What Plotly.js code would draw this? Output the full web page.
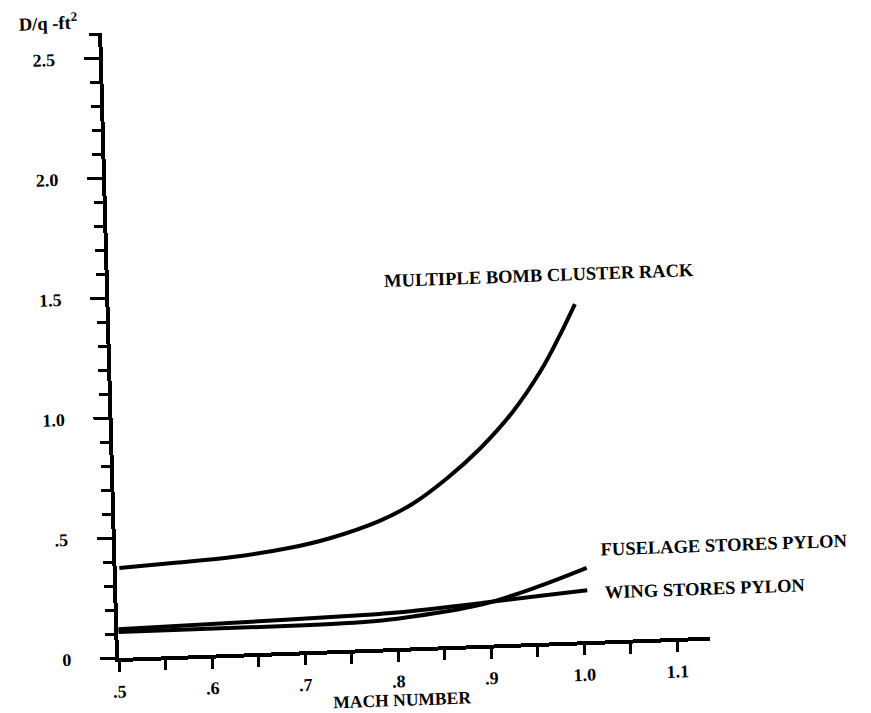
<!DOCTYPE html>
<html>
<head>
<meta charset="utf-8">
<script src="https://cdn.plot.ly/plotly-3.0.1.min.js"></script>
<style>
  html, body { margin: 0; padding: 0; background: #fff; overflow: hidden; width: 871px; height: 713px; }
  /* the scanned original is slightly skewed; reproduce that with a small affine transform */
  #chart { width: 871px; height: 740px; transform-origin: 119px 658px; transform: matrix(1, -0.036, 0.027, 1, 0, 0); }
</style>
</head>
<body>
<div id="chart"></div>
<script>
// ---- data ----
const seriesNames = ['MULTIPLE BOMB CLUSTER RACK', 'FUSELAGE STORES PYLON', 'WING STORES PYLON'];

const machBomb = [0.503, 0.563, 0.625, 0.687, 0.730, 0.784, 0.820, 0.858, 0.894, 0.930, 0.961, 0.983, 1.000];
const dqBomb   = [0.375, 0.388, 0.403, 0.433, 0.467, 0.532, 0.598, 0.700, 0.818, 0.965, 1.130, 1.278, 1.405];

const machFuselage = [0.500, 0.680, 0.760, 0.800, 0.893, 0.955, 1.005];
const dqFuselage   = [0.108, 0.108, 0.113, 0.122, 0.170, 0.238, 0.305];

const machWing = [0.500, 0.680, 0.760, 0.800, 0.893, 0.955, 1.005];
const dqWing   = [0.120, 0.134, 0.142, 0.148, 0.175, 0.196, 0.212];

const machTickVals = [0.5, 0.6, 0.7, 0.8, 0.9, 1.0, 1.1];
const machTickText = ['.5', '.6', '.7', '.8', '.9', '1.0', '1.1'];
const dqTickVals = [0, 0.5, 1.0, 1.5, 2.0, 2.5];
const dqTickText = ['0', '.5', '1.0', '1.5', '2.0', '2.5'];

// ---- drawing ----
const FONT = '"Liberation Serif", "Times New Roman", serif';
const lineStyle = { color: '#000', width: 4, shape: 'spline', smoothing: 1 };

const traces = [
  { x: machBomb, y: dqBomb, name: seriesNames[0] },
  { x: machFuselage, y: dqFuselage, name: seriesNames[1] },
  { x: machWing, y: dqWing, name: seriesNames[2] }
].map(t => Object.assign(t, { type: 'scatter', mode: 'lines', line: lineStyle, cliponaxis: false, hoverinfo: 'skip' }));

function labelFont(size) { return { family: FONT, size: size, color: '#000', weight: 'bold' }; }

const layout = {
  width: 871, height: 740,
  margin: { l: 119, r: 161, t: 33, b: 82 },
  paper_bgcolor: '#fff', plot_bgcolor: '#fff',
  showlegend: false,
  font: labelFont(18),
  xaxis: {
    range: [0.5, 1.1355],
    showgrid: false, zeroline: false,
    showline: true, linewidth: 4, linecolor: '#000',
    tickmode: 'array', tickvals: machTickVals, ticktext: machTickText,
    ticks: 'outside', ticklen: 10, tickwidth: 3, tickcolor: '#000',
    minor: { tickmode: 'linear', tick0: 0.5, dtick: 0.05, ticks: 'outside', ticklen: 10, tickwidth: 3, tickcolor: '#000', showgrid: false },
    tickfont: labelFont(18),
    ticklabelstandoff: 4
  },
  yaxis: {
    range: [0, 2.604],
    showgrid: false, zeroline: false,
    showline: true, linewidth: 4, linecolor: '#000',
    tickmode: 'array', tickvals: dqTickVals, ticktext: dqTickText,
    ticks: 'outside', ticklen: 15, tickwidth: 3, tickcolor: '#000',
    minor: { tickmode: 'linear', tick0: 0, dtick: 0.1, ticks: 'outside', ticklen: 9, tickwidth: 3, tickcolor: '#000', showgrid: false },
    tickfont: labelFont(18),
    ticklabelstandoff: 25
  },
  annotations: [
    { xref: 'x', yref: 'y', x: 0.7935, y: 1.531, xanchor: 'left', yanchor: 'middle', showarrow: false,
      text: seriesNames[0], font: labelFont(18.5) },
    { xref: 'x', yref: 'y', x: 1.018, y: 0.378, xanchor: 'left', yanchor: 'middle', showarrow: false,
      text: seriesNames[1], font: labelFont(18.5) },
    { xref: 'x', yref: 'y', x: 1.022, y: 0.200, xanchor: 'left', yanchor: 'middle', showarrow: false,
      text: seriesNames[2], font: labelFont(18.5) },
    // axis titles
    { xref: 'paper', yref: 'paper', x: 0.4765, y: -0.083, xanchor: 'center', yanchor: 'middle', showarrow: false,
      text: 'MACH NUMBER', font: labelFont(17.5) },
    { xref: 'paper', yref: 'paper', x: -0.143, y: 1.02, xanchor: 'left', yanchor: 'middle', showarrow: false,
      text: 'D/q -ft<sup>2</sup>', font: labelFont(18.5) }
  ]
};

Plotly.newPlot('chart', traces, layout, { displayModeBar: false, staticPlot: true });
</script>
</body>
</html>
